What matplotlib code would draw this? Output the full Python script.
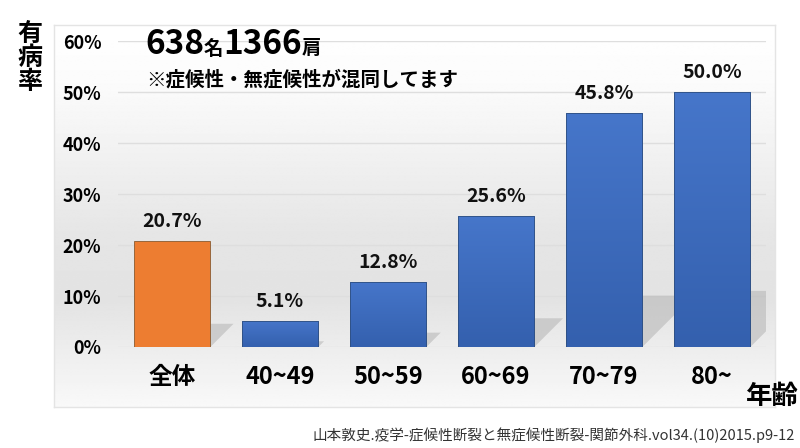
import numpy as np
import matplotlib
matplotlib.use("Agg")
import matplotlib.pyplot as plt
from matplotlib.patches import Polygon, Rectangle
from matplotlib.offsetbox import TextArea, HPacker, AnchoredOffsetbox

plt.rcParams['font.family'] = ['Noto Sans CJK JP', 'DejaVu Sans']

# ── data ──────────────────────────────────────────────────────────────────────
categories = ["全体", "40~49", "50~59", "60~69", "70~79", "80~"]
rates      = [20.7, 5.1, 12.8, 25.6, 45.8, 50.0]     # 有病率 (%)
bar_colors = ["#ED7D31", "#4472C4", "#4472C4", "#4472C4", "#4472C4", "#4472C4"]
y_ticks    = [0, 10, 20, 30, 40, 50, 60]

W, H = 800, 448
fig = plt.figure(figsize=(W / 100, H / 100), dpi=100)
fig.patch.set_facecolor("white")

# ── background panel with soft grey gradient ─────────────────────────────────
bg = fig.add_axes([54 / W, 1 - 407 / H, (775 - 54) / W, (407 - 25) / H], zorder=0)
t = np.linspace(0, 1, 300)
shade = np.interp(t, [0, 0.15, 0.55, 0.72, 0.85, 1.0],
                     [1.0, 0.985, 0.90, 0.89, 0.93, 0.975])
bg.imshow(np.tile(shade[:, None], (1, 2)), cmap="gray", vmin=0, vmax=1,
          aspect="auto", extent=[0, 1, 0, 1], interpolation="bilinear")
bg.set_xlim(0, 1); bg.set_ylim(0, 1)
bg.set_xticks([]); bg.set_yticks([])
for s in bg.spines.values():
    s.set_color("#e4e4e4"); s.set_linewidth(1)

# ── main axes ─────────────────────────────────────────────────────────────────
ax = fig.add_axes([118 / W, 1 - 347 / H, (766 - 118) / W, 306 / H], zorder=1)
ax.patch.set_alpha(0)
ax.set_xlim(-0.5, 5.5)
ax.set_ylim(0, 60)
for s in ax.spines.values():
    s.set_visible(False)

for v in y_ticks:
    ax.axhline(v, color="#dedede", lw=1, zorder=1)

x = np.arange(len(categories))
bw = 0.71
px_per_x = (766 - 118) / 6.0
px_per_y = 306 / 60.0

# shadows cast up-right behind the bars
for xi, r in zip(x, rates):
    sh = 0.22 * r
    dx = sh * px_per_y / px_per_x
    poly = Polygon([(xi - bw / 2, 0), (xi + bw / 2, 0),
                    (xi + bw / 2 + dx, sh), (xi - bw / 2 + dx, sh)],
                   closed=True, facecolor="#b4b4b4", edgecolor="none",
                   alpha=0.55, zorder=2)
    ax.add_patch(poly)

bars = ax.bar(x, rates, width=bw, color=bar_colors, edgecolor="#2f4f80",
              linewidth=0.6, zorder=3)
bars[0].set_edgecolor("#8a5a30")

# subtle vertical gradient on the blue bars
grad = np.linspace(0, 1, 100)[:, None]
cmap_bar = matplotlib.colors.LinearSegmentedColormap.from_list(
    "barblue", ["#3460AE", "#4676CA"])
for b, c in zip(bars, bar_colors):
    if c != "#4472C4":
        continue
    x0, y0 = b.get_x(), b.get_y()
    im = ax.imshow(grad, cmap=cmap_bar, aspect="auto",
                   extent=[x0, x0 + b.get_width(), y0, y0 + b.get_height()],
                   origin="lower", zorder=3.5)
    im.set_clip_path(b)
    ax.add_patch(Rectangle((x0, y0), b.get_width(), b.get_height(), fill=False,
                           edgecolor="#2f4f80", lw=0.6, zorder=3.6))
ax.set_xlim(-0.5, 5.5)
ax.set_ylim(0, 60)

for xi, r in zip(x, rates):
    ax.text(xi, r + 2.0, f"{r:.1f}%", ha="center", va="bottom",
            fontsize=14, fontweight="bold", color="#111111", zorder=5)

ax.set_yticks(y_ticks)
ax.set_yticklabels([f"{v}%" for v in y_ticks], fontsize=13, fontweight="bold")
ax.tick_params(axis="y", length=0, pad=12)
ax.set_xticks(x)
ax.set_xticklabels(categories, fontsize=17, fontweight="bold")
ax.tick_params(axis="x", length=0, pad=13)

# ── annotations ───────────────────────────────────────────────────────────────
fig.text(30 / W, 1 - 58 / H, "有\n病\n率", ha="center", va="center",
         fontsize=18, fontweight="bold", linespacing=1.0)
fig.text(772 / W, 1 - 396 / H, "年齢", ha="center", va="center",
         fontsize=19, fontweight="bold")

parts = [TextArea("638", textprops=dict(fontsize=24, fontweight="bold")),
         TextArea("名", textprops=dict(fontsize=14, fontweight="bold")),
         TextArea("1366", textprops=dict(fontsize=24, fontweight="bold")),
         TextArea("肩", textprops=dict(fontsize=14, fontweight="bold"))]
pack = HPacker(children=parts, align="baseline", pad=0, sep=0)
box = AnchoredOffsetbox(loc="center left", child=pack, frameon=False, pad=0,
                        bbox_to_anchor=(145 / W, 1 - 45 / H),
                        bbox_transform=fig.transFigure, borderpad=0)
fig.add_artist(box)

fig.text(146 / W, 1 - 80 / H, "※症候性・無症候性が混同してます", ha="left", va="center",
         fontsize=14, fontweight="bold")

fig.text(795 / W, 1 - 435 / H,
         "山本敦史.疫学-症候性断裂と無症候性断裂-関節外科.vol34.(10)2015.p9-12",
         ha="right", va="center", fontsize=10.5, color="#333333")

fig.savefig("out.png", dpi=100)
